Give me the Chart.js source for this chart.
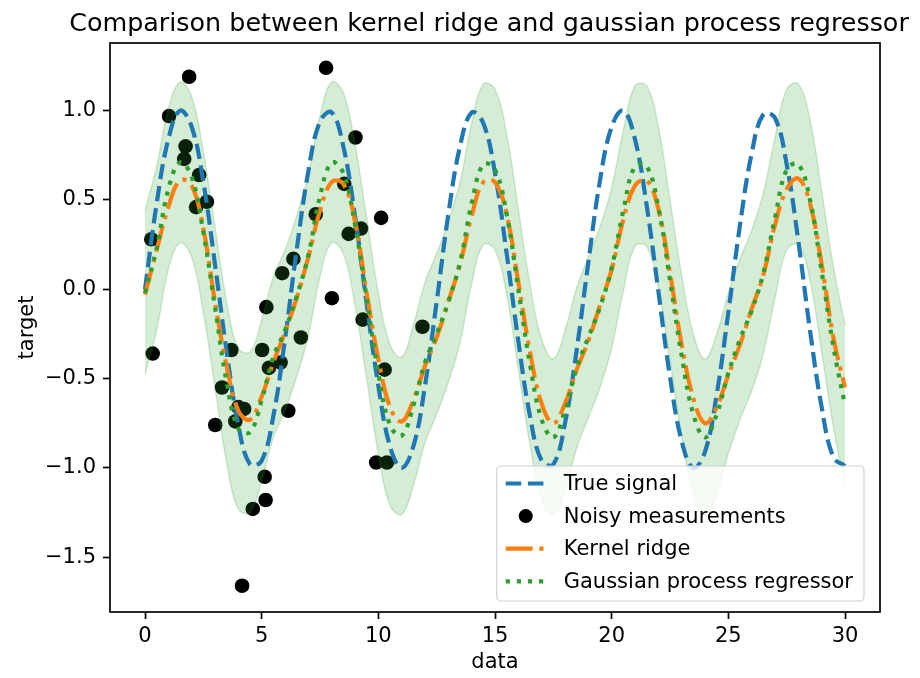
<!DOCTYPE html>
<html>
<head>
<meta charset="utf-8">
<title>Kernel ridge vs GPR</title>
<script src="https://cdn.jsdelivr.net/npm/chart.js@4.4.0/dist/chart.umd.min.js"></script>
<style>
  html, body { margin: 0; padding: 0; background: #fff; }
  #wrap { width: 920px; height: 678px; }
</style>
</head>
<body>
<div id="wrap"><canvas id="chart" width="920" height="678"></canvas></div>
<script>
'use strict';

// prediction grid (every 0.5 from 0 to 30)
var xGrid = [0, 0.5, 1, 1.5, 2, 2.5, 3, 3.5, 4, 4.5,
  5, 5.5, 6, 6.5, 7, 7.5, 8, 8.5, 9, 9.5,
  10, 10.5, 11, 11.5, 12, 12.5, 13, 13.5, 14, 14.5,
  15, 15.5, 16, 16.5, 17, 17.5, 18, 18.5, 19, 19.5,
  20, 20.5, 21, 21.5, 22, 22.5, 23, 23.5, 24, 24.5,
  25, 25.5, 26, 26.5, 27, 27.5, 28, 28.5, 29, 29.5,
  30];

var trueSignal = [0.00, 0.48, 0.84, 1.00, 0.91, 0.60, 0.14, -0.35, -0.76, -0.98,
  -0.96, -0.71, -0.28, 0.22, 0.66, 0.94, 0.99, 0.80, 0.41, -0.08,
  -0.54, -0.88, -1.00, -0.88, -0.54, -0.07, 0.42, 0.80, 0.99, 0.93,
  0.65, 0.20, -0.29, -0.71, -0.96, -0.98, -0.75, -0.34, 0.15, 0.61,
  0.91, 1.00, 0.84, 0.47, -0.01, -0.49, -0.85, -1.00, -0.91, -0.59,
  -0.13, 0.36, 0.76, 0.98, 0.96, 0.70, 0.27, -0.23, -0.66, -0.94,
  -0.99];

var kernelRidge = [-0.03, 0.22, 0.46, 0.61, 0.58, 0.34, -0.07, -0.43, -0.68, -0.73,
  -0.60, -0.41, -0.24, -0.05, 0.18, 0.44, 0.60, 0.59, 0.38, -0.02,
  -0.39, -0.66, -0.74, -0.62, -0.43, -0.27, -0.07, 0.14, 0.41, 0.60,
  0.60, 0.42, 0.04, -0.35, -0.64, -0.75, -0.64, -0.45, -0.29, -0.09,
  0.11, 0.39, 0.58, 0.61, 0.45, 0.09, -0.31, -0.61, -0.75, -0.66,
  -0.48, -0.31, -0.11, 0.08, 0.36, 0.56, 0.62, 0.48, 0.14, -0.27,
  -0.55];

var gprMean = [-0.02, 0.23, 0.56, 0.71, 0.63, 0.32, -0.10, -0.52, -0.78, -0.80,
  -0.62, -0.38, -0.23, -0.04, 0.19, 0.52, 0.71, 0.65, 0.36, -0.05,
  -0.47, -0.76, -0.82, -0.65, -0.41, -0.25, -0.07, 0.15, 0.48, 0.70,
  0.67, 0.42, 0.00, -0.42, -0.73, -0.83, -0.68, -0.44, -0.27, -0.10,
  0.12, 0.44, 0.69, 0.69, 0.46, 0.05, -0.37, -0.70, -0.83, -0.70,
  -0.47, -0.28, -0.12, 0.09, 0.40, 0.67, 0.70, 0.50, 0.10, -0.32,
  -0.65];

var gprStd = [0.46, 0.46, 0.45, 0.45, 0.45, 0.45, 0.45, 0.45, 0.45, 0.45,
  0.45, 0.45, 0.45, 0.45, 0.45, 0.45, 0.45, 0.45, 0.45, 0.45,
  0.45, 0.45, 0.44, 0.45, 0.45, 0.45, 0.45, 0.45, 0.45, 0.45,
  0.45, 0.45, 0.45, 0.45, 0.45, 0.44, 0.45, 0.45, 0.45, 0.45,
  0.45, 0.45, 0.45, 0.45, 0.45, 0.45, 0.45, 0.45, 0.44, 0.45,
  0.45, 0.45, 0.45, 0.45, 0.45, 0.45, 0.45, 0.45, 0.45, 0.45,
  0.45];

// noisy training samples
var trainX = [0.27, 0.33, 1.03, 1.68, 1.74, 1.89, 2.19, 2.32, 2.65, 3.01,
  3.30, 3.70, 3.87, 4.00, 4.16, 4.25, 4.62, 5.02, 5.13, 5.17,
  5.20, 5.31, 5.81, 5.88, 6.14, 6.36, 6.68, 7.32, 7.76, 8.01,
  8.54, 8.73, 9.02, 9.26, 9.33, 9.91, 10.12, 10.27, 10.37, 11.89];
var trainY = [0.28, -0.36, 0.97, 0.73, 0.80, 1.19, 0.46, 0.64, 0.49, -0.76,
  -0.55, -0.34, -0.74, -0.66, -1.66, -0.67, -1.23, -0.34, -1.05, -1.18,
  -0.10, -0.44, -0.41, 0.09, -0.68, 0.17, -0.27, 0.42, 1.24, -0.05,
  0.59, 0.31, 0.85, 0.34, -0.17, -0.97, 0.40, -0.45, -0.97, -0.21];

var xTicks = [0, 5, 10, 15, 20, 25, 30];
var yTicks = [-1.5, -1.0, -0.5, 0.0, 0.5, 1.0];

var TITLE = 'Comparison between kernel ridge and gaussian process regressor';

var BLUE = '#1f77b4', ORANGE = '#ff7f0e', GREEN = '#2ca02c';
var BAND = 'rgba(44,160,44,0.2)';
var LW = 4.2;      // 2pt lines
var FONT = 'DejaVu Sans';

function pairs(ys) {
  return xGrid.map(function (x, i) { return {x: x, y: ys[i]}; });
}

var bandLower = gprMean.map(function (m, i) { return m - gprStd[i]; });
var bandUpper = gprMean.map(function (m, i) { return m + gprStd[i]; });

Chart.defaults.font.family = FONT;
Chart.defaults.color = '#000';

// axes box drawn on top of everything like matplotlib spines
var frame = {
  id: 'frame',
  afterDatasetsDraw: function (chart) {
    var a = chart.chartArea, ctx = chart.ctx;
    ctx.save();
    ctx.strokeStyle = '#000';
    ctx.lineWidth = 1.7;
    ctx.strokeRect(a.left, a.top, a.right - a.left, a.bottom - a.top);
    ctx.restore();
  }
};

// title centred over the axes, allowed to run wider than them
var axesTitle = {
  id: 'axesTitle',
  afterDraw: function (chart) {
    var a = chart.chartArea, ctx = chart.ctx;
    ctx.save();
    ctx.font = '25.4px "' + FONT + '"';
    ctx.fillStyle = '#000';
    ctx.textAlign = 'center';
    ctx.textBaseline = 'alphabetic';
    ctx.fillText(TITLE, (a.left + a.right) / 2 - 6, a.top - 12);
    ctx.restore();
  }
};

var legendRows = [
  {label: 'True signal', kind: 'line', color: BLUE, dash: [15.5, 6.7]},
  {label: 'Noisy measurements', kind: 'dot', color: '#000'},
  {label: 'Kernel ridge', kind: 'line', color: ORANGE, dash: [26.9, 6.7, 4.2, 6.7]},
  {label: 'Gaussian process regressor', kind: 'line', color: GREEN, dash: [4.2, 6.9]}
];

var boxLegend = {
  id: 'boxLegend',
  afterDraw: function (chart) {
    var a = chart.chartArea, ctx = chart.ctx;
    ctx.save();
    ctx.font = '21px "' + FONT + '"';
    var widest = 0;
    legendRows.forEach(function (r) { widest = Math.max(widest, ctx.measureText(r.label).width); });
    var w = 67 + widest + 11, h = 135;
    var left = a.right - 16 - w, top = a.bottom - 11 - h;

    ctx.beginPath();
    ctx.roundRect(left, top, w, h, 4);
    ctx.fillStyle = 'rgba(255,255,255,0.8)';
    ctx.fill();
    ctx.strokeStyle = '#d0d0d0';
    ctx.lineWidth = 1.2;
    ctx.stroke();

    legendRows.forEach(function (r, i) {
      var cy = top + 17.5 + i * 32.6;
      if (r.kind === 'line') {
        ctx.beginPath();
        ctx.setLineDash(r.dash);
        ctx.lineCap = 'butt';
        ctx.strokeStyle = r.color;
        ctx.lineWidth = LW;
        ctx.moveTo(left + 9, cy);
        ctx.lineTo(left + 49, cy);
        ctx.stroke();
        ctx.setLineDash([]);
      } else {
        ctx.beginPath();
        ctx.fillStyle = r.color;
        ctx.arc(left + 29, cy, 7, 0, Math.PI * 2);
        ctx.fill();
      }
      ctx.fillStyle = '#000';
      ctx.textBaseline = 'middle';
      ctx.textAlign = 'left';
      ctx.fillText(r.label, left + 67, cy + 1);
    });
    ctx.restore();
  }
};

var tickGrid = {
  drawOnChartArea: false,
  drawTicks: true,
  tickLength: 7,
  tickWidth: 1.7,
  tickColor: '#000',
  color: 'rgba(0,0,0,0)'
};

new Chart(document.getElementById('chart'), {
  type: 'line',
  data: {
    datasets: [
      {
        label: 'True signal',
        data: pairs(trueSignal),
        borderColor: BLUE, borderWidth: LW, borderDash: [15.5, 6.7],
        pointRadius: 0, fill: false, tension: 0.4, order: 3
      },
      {
        label: 'Kernel ridge',
        data: pairs(kernelRidge),
        borderColor: ORANGE, borderWidth: LW, borderDash: [26.9, 6.7, 4.2, 6.7],
        pointRadius: 0, fill: false, tension: 0.4, order: 2
      },
      {
        label: 'Gaussian process regressor',
        data: pairs(gprMean),
        borderColor: GREEN, borderWidth: LW, borderDash: [4.2, 6.9],
        pointRadius: 0, fill: false, tension: 0.4, order: 1
      },
      {
        label: 'band low',
        data: pairs(bandLower),
        borderColor: BAND, borderWidth: 1.5,
        pointRadius: 0, fill: false, tension: 0.4, order: 4
      },
      {
        label: 'band high',
        data: pairs(bandUpper),
        borderColor: BAND, borderWidth: 1.5, backgroundColor: BAND,
        pointRadius: 0, fill: '-1', tension: 0.4, order: 4
      },
      {
        label: 'Noisy measurements',
        data: trainX.map(function (x, i) { return {x: x, y: trainY[i]}; }),
        showLine: false,
        pointRadius: 7.3, pointBackgroundColor: '#000', pointBorderWidth: 0,
        order: 5
      }
    ]
  },
  options: {
    responsive: false,
    devicePixelRatio: 1,
    animation: false,
    events: [],
    layout: { padding: { top: 43, right: 40, bottom: 0, left: 0 } },
    plugins: {
      legend: { display: false },
      tooltip: { enabled: false },
      title: { display: false }
    },
    scales: {
      x: {
        type: 'linear',
        min: -1.5,
        max: 31.5,
        afterBuildTicks: function (s) { s.ticks = xTicks.map(function (v) { return {value: v}; }); },
        afterFit: function (s) { s.height = 66; },
        ticks: {
          font: { size: 21 }, color: '#000', padding: 5,
          maxRotation: 0, autoSkip: false,
          callback: function (v) { return String(v); }
        },
        grid: tickGrid,
        border: { display: false },
        title: { display: true, text: 'data', font: { size: 21 }, color: '#000', padding: { top: 0, bottom: 3 } }
      },
      y: {
        type: 'linear',
        min: -1.807,
        max: 1.379,
        afterBuildTicks: function (s) { s.ticks = yTicks.map(function (v) { return {value: v}; }); },
        afterFit: function (s) { s.width = 110; },
        ticks: {
          font: { size: 21 }, color: '#000', padding: 7,
          autoSkip: false,
          callback: function (v) { return v.toFixed(1).replace('-', '\u2212'); }
        },
        grid: tickGrid,
        border: { display: false },
        title: { display: true, text: 'target', font: { size: 21 }, color: '#000', padding: { top: 15, bottom: 0 } }
      }
    }
  },
  plugins: [frame, axesTitle, boxLegend]
});
</script>
</body>
</html>
